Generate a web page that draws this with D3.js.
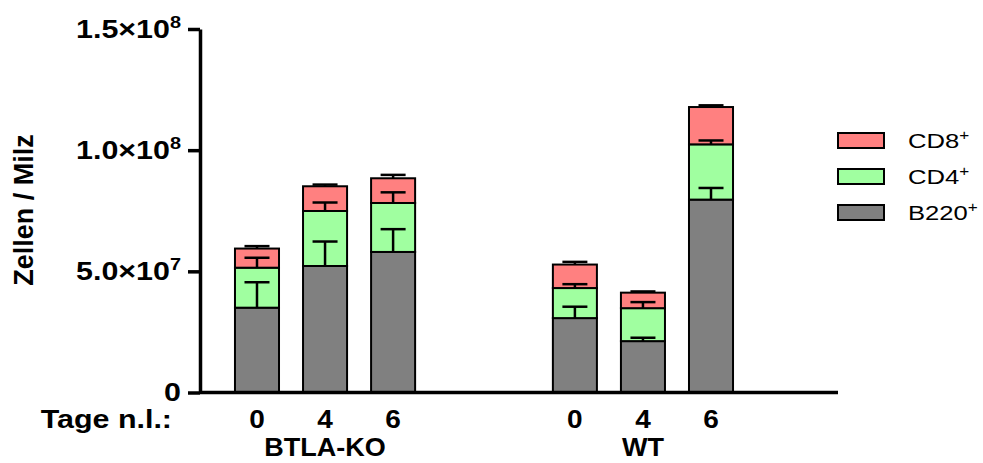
<!DOCTYPE html>
<html>
<head>
<meta charset="utf-8">
<script src="https://cdn.jsdelivr.net/npm/d3@7/dist/d3.min.js"></script>
<style>
  body { margin: 0; background: #fff; }
  svg text { font-family: Arial, "Liberation Sans", sans-serif; }
</style>
</head>
<body>
<div id="chartDiv"></div>
<script>
'use strict';

// groups and days after infection
const groups = ['BTLA-KO', 'WT'];
const days = ['0', '4', '6'];

// cell populations, stacked bottom to top
const cellTypes = ['B220', 'CD4', 'CD8'];
const cellColors = ['#808080', '#a0ffa0', '#ff8080'];

// mean cells per spleen, one value per day
const b220KO = [35.0e6, 52.2e6, 58.0e6];
const cd4KO = [16.5e6, 22.7e6, 20.2e6];
const cd8KO = [7.9e6, 10.2e6, 10.2e6];
const b220WT = [30.7e6, 21.2e6, 79.6e6];
const cd4WT = [12.4e6, 13.6e6, 22.8e6];
const cd8WT = [9.7e6, 6.4e6, 15.4e6];

// error (SEM), drawn upwards from the top of each segment
const b220KOErr = [10.5e6, 10.1e6, 9.4e6];
const cd4KOErr = [4.1e6, 3.5e6, 4.4e6];
const cd8KOErr = [1.0e6, 0.7e6, 1.4e6];
const b220WTErr = [4.7e6, 1.4e6, 4.8e6];
const cd4WTErr = [1.6e6, 2.5e6, 1.6e6];
const cd8WTErr = [1.1e6, 0.5e6, 0.7e6];

// y ticks
const yTicks = [0, 5e7, 1e8, 1.5e8];
const yTickLabels = ['0', '5.0×10^7', '1.0×10^8', '1.5×10^8'];

const width = 983;
const height = 463;
const plot = { left: 200, right: 838, top: 29, bottom: 392.5 };
const stretch = 1.17; // text in the original is a bit wider than Arial

function main() {
    const svg = d3.select('#chartDiv')
        .append('svg')
        .attr('width', width)
        .attr('height', height);

    // Build rows: one per bar
    const means = { 'BTLA-KO': [b220KO, cd4KO, cd8KO], 'WT': [b220WT, cd4WT, cd8WT] };
    const errs = { 'BTLA-KO': [b220KOErr, cd4KOErr, cd8KOErr], 'WT': [b220WTErr, cd4WTErr, cd8WTErr] };
    let rows = [];
    groups.forEach(g => {
        days.forEach((day, i) => {
            let row = { group: g, day: day };
            cellTypes.forEach((c, k) => {
                row[c] = means[g][k][i];
                row[c + 'Err'] = errs[g][k][i];
            });
            rows.push(row);
        });
    });

    const stacked = d3.stack().keys(cellTypes)(rows);

    // Scales
    const x0 = d3.scaleBand()
        .domain(groups)
        .range([223, 745])
        .paddingInner(0.358);
    const x1 = d3.scaleBand()
        .domain(days)
        .range([0, x0.bandwidth()])
        .paddingInner(0.353)
        .paddingOuter(0.176);
    const y = d3.scaleLinear()
        .domain([0, 1.5e8])
        .range([plot.bottom, plot.top]);

    const barX = d => x0(d.group) + x1(d.day);

    // Text helper, stretched horizontally around its anchor point
    function addText(parent, x, yPos, size, sx) {
        return parent.append('text')
            .attr('transform', `translate(${x},${yPos}) scale(${sx},1)`)
            .attr('font-size', size)
            .attr('fill', '#000');
    }

    // Bars
    svg.append('g')
        .selectAll('g')
        .data(stacked)
        .join('g')
        .attr('fill', (d, i) => cellColors[i])
        .selectAll('rect')
        .data(d => d)
        .join('rect')
        .attr('x', d => barX(d.data))
        .attr('y', d => y(d[1]))
        .attr('width', x1.bandwidth())
        .attr('height', d => y(d[0]) - y(d[1]))
        .attr('stroke', '#000')
        .attr('stroke-width', 2);

    // Error bars
    const capW = 25;
    const errGroup = svg.append('g')
        .attr('stroke', '#000')
        .attr('stroke-width', 2.5);
    stacked.forEach(layer => {
        layer.forEach(d => {
            let cx = barX(d.data) + x1.bandwidth() / 2;
            let top = d[1];
            let e = d.data[layer.key + 'Err'];
            errGroup.append('line')
                .attr('x1', cx).attr('x2', cx)
                .attr('y1', y(top)).attr('y2', y(top + e));
            errGroup.append('line')
                .attr('x1', cx - capW / 2).attr('x2', cx + capW / 2)
                .attr('y1', y(top + e)).attr('y2', y(top + e));
        });
    });

    // Y axis
    const yAxis = svg.append('g')
        .attr('transform', `translate(${plot.left},0)`)
        .call(d3.axisLeft(y).tickValues(yTicks).tickSize(12).tickPadding(9).tickSizeOuter(0));
    yAxis.select('.domain').attr('stroke-width', 3.5);
    yAxis.selectAll('.tick line').attr('stroke-width', 3.5);
    yAxis.selectAll('.tick text')
        .attr('font-size', 26)
        .attr('font-weight', 'bold')
        .attr('font-family', 'Arial, "Liberation Sans", sans-serif')
        .attr('fill', '#000')
        .attr('x', -19 / stretch)
        .attr('transform', `scale(${stretch},1)`)
        .each(function (d, i) {
            let parts = yTickLabels[i].split('^');
            let t = d3.select(this).text(null);
            t.append('tspan').text(parts[0]);
            if (parts[1]) {
                t.append('tspan')
                    .attr('font-size', 17)
                    .attr('dy', -10)
                    .text(parts[1]);
            }
        });

    // X axis line
    svg.append('line')
        .attr('x1', plot.left).attr('x2', plot.right)
        .attr('y1', y(0)).attr('y2', y(0))
        .attr('stroke', '#000')
        .attr('stroke-width', 3.5);

    // Day labels
    rows.forEach(d => {
        addText(svg, barX(d) + x1.bandwidth() / 2, 428, 25, 1.12)
            .attr('text-anchor', 'middle')
            .attr('font-weight', 'bold')
            .text(d.day);
    });

    addText(svg, 172, 428, 26, stretch)
        .attr('text-anchor', 'end')
        .attr('font-weight', 'bold')
        .text('Tage n.l.:');

    // Group labels
    groups.forEach(g => {
        addText(svg, x0(g) + x0.bandwidth() / 2, 456, 25, 1.08)
            .attr('text-anchor', 'middle')
            .attr('font-weight', 'bold')
            .text(g);
    });

    // Y axis title
    svg.append('text')
        .attr('transform', 'translate(33,210) rotate(-90)')
        .attr('text-anchor', 'middle')
        .attr('font-size', 27)
        .attr('font-weight', 'bold')
        .text('Zellen / Milz');

    // Legend, top entry is the top segment
    const legendItems = cellTypes.slice().reverse();
    const legend = svg.append('g')
        .attr('transform', 'translate(838,133)');
    legendItems.forEach((c, i) => {
        let gItem = legend.append('g')
            .attr('transform', `translate(0,${i * 36})`);
        gItem.append('rect')
            .attr('width', 46)
            .attr('height', 15)
            .attr('fill', cellColors[cellTypes.indexOf(c)])
            .attr('stroke', '#000')
            .attr('stroke-width', 2);
        let t = addText(gItem, 70, 15, 21, 1.22);
        t.append('tspan').text(c);
        t.append('tspan')
            .attr('font-size', 14)
            .attr('dy', -8)
            .text('+');
    });
}
main();
</script>
</body>
</html>
